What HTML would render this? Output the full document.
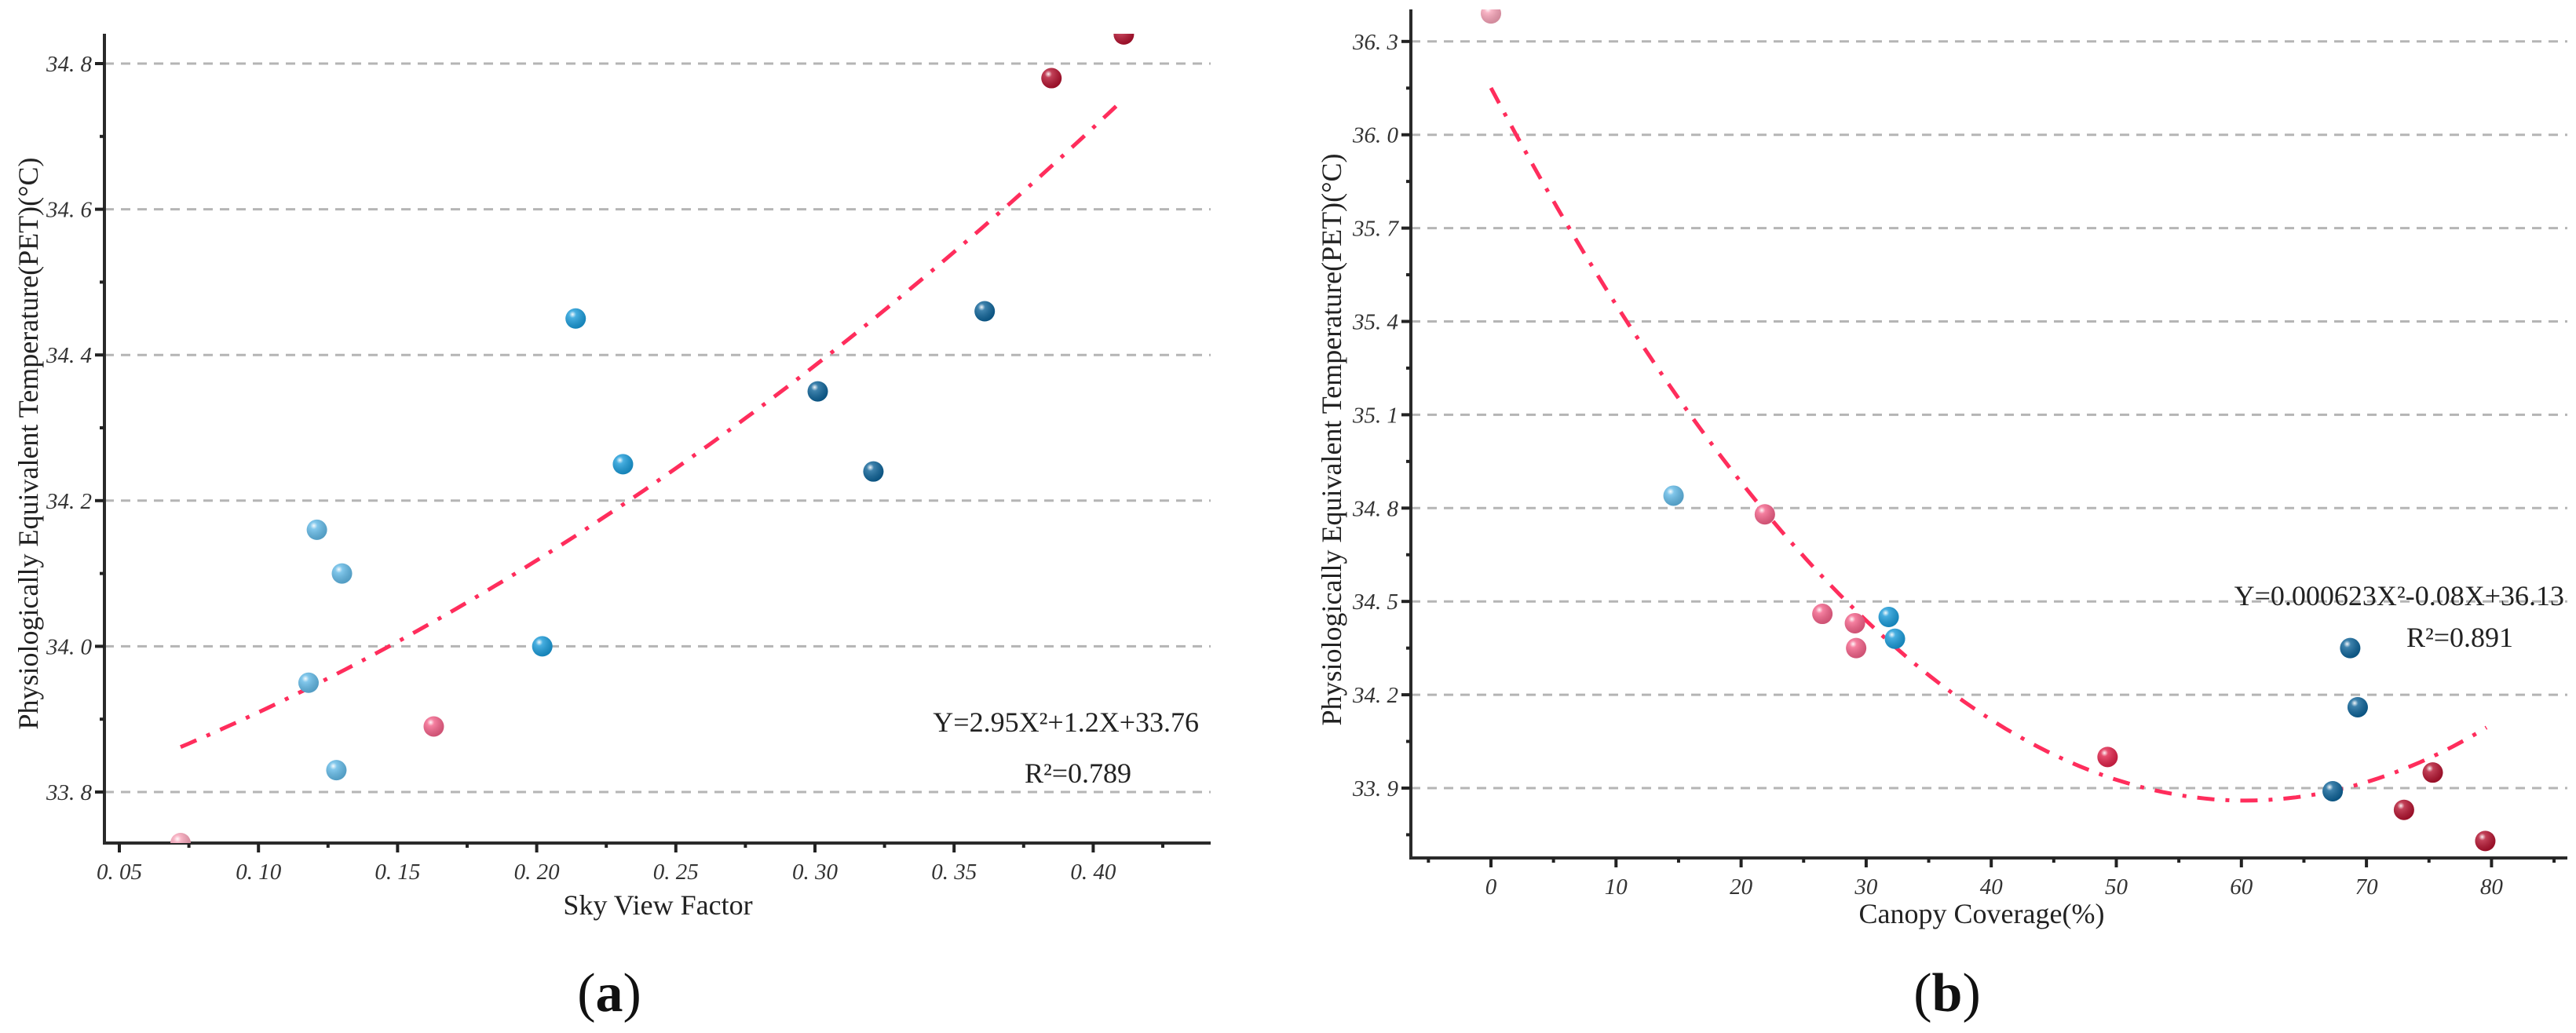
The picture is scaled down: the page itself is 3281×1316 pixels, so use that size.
<!DOCTYPE html>
<html><head><meta charset="utf-8">
<style>
html,body{margin:0;padding:0;background:#fff;}
svg{display:block;}
.tick{font-family:"Liberation Serif",serif;font-style:italic;font-size:29px;fill:#333;}
.title{font-family:"Liberation Serif",serif;font-size:36px;fill:#222;}
.eq{font-family:"Liberation Serif",serif;font-size:36px;fill:#222;}
.panel{font-family:"Liberation Serif",serif;font-size:70px;fill:#111;}
</style></head>
<body>
<svg id="chart" width="3281" height="1316" viewBox="0 0 3281 1316" xmlns="http://www.w3.org/2000/svg" style="position:absolute;left:0;top:0;">
<defs>
<radialGradient id="shine" cx="0.35" cy="0.3" r="0.7">
<stop offset="0" stop-color="#fff" stop-opacity="0.95"/>
<stop offset="0.25" stop-color="#fff" stop-opacity="0.2"/>
<stop offset="1" stop-color="#000" stop-opacity="0.15"/>
</radialGradient>
</defs>
<g id="pa"></g>
<g id="pb"></g>
</svg>
<script>
// Panel (a) data
const aX = [0.072,0.118,0.121,0.130,0.128,0.163,0.202,0.214,0.231,0.301,0.321,0.361,0.385,0.411];
const aY = [33.73,33.95,34.16,34.10,33.83,33.89,34.00,34.45,34.25,34.35,34.24,34.46,34.78,34.84];
const aColor = ["#f7a3b8","#62b9e6","#62b9e6","#62b9e6","#62b9e6","#f36189","#1a9bd9","#1a9bd9","#1a9bd9","#0e6398","#0e6398","#0e6398","#b3122f","#b3122f"];
const aXTicks = [0.05,0.10,0.15,0.20,0.25,0.30,0.35,0.40];
const aYTicks = [33.8,34.0,34.2,34.4,34.6,34.8];
const aCoef = [2.95,1.2,33.76];
// Panel (b) data
const bX = [0,14.6,21.9,26.5,29.1,29.2,31.8,32.3,49.3,67.3,68.7,69.3,73.0,75.3,79.5];
const bY = [36.39,34.84,34.78,34.46,34.43,34.35,34.45,34.38,34.00,33.89,34.35,34.16,33.83,33.95,33.73];
const bColor = ["#f7a3b8","#62b9e6","#f36189","#f36189","#f36189","#f36189","#1a9bd9","#1a9bd9","#e0224a","#0e6398","#0e6398","#0e6398","#b3122f","#b3122f","#b3122f"];
const bXTicks = [0,10,20,30,40,50,60,70,80];
const bYTicks = [33.9,34.2,34.5,34.8,35.1,35.4,35.7,36.0,36.3];
const bCurve = [0.00063,60.3,33.86]; // vertex form a(x-h)^2+k

const NS="http://www.w3.org/2000/svg";
function el(parent,tag,attrs,text){const e=document.createElementNS(NS,tag);for(const k in attrs)e.setAttribute(k,attrs[k]);if(text!==undefined)e.textContent=text;parent.appendChild(e);return e;}

function drawPanel(g,cfg){
  const sx=v=>cfg.x0px+(v-cfg.xv0)*cfg.xs;
  const sy=v=>cfg.y0px-(v-cfg.yv0)*cfg.ys;
  const grid=el(g,'g',{});
  
  
  cfg.yTicks.forEach(t=>{
    const l=el(grid,'line',{x1:cfg.axX,x2:cfg.right,y1:sy(t),y2:sy(t),stroke:'#b5b5b5','stroke-width':3,'stroke-dasharray':'12 9'});
    
    
  });
  const ya=el(g,'line',{x1:cfg.axX,x2:cfg.axX,y1:cfg.top,y2:cfg.axY+1.5,stroke:'#2a2a2a','stroke-width':4});
  
  
  const xa=el(g,'line',{x1:cfg.axX-2,x2:cfg.right,y1:cfg.axY,y2:cfg.axY,stroke:'#2a2a2a','stroke-width':4});
  
  
  const ystep=cfg.yTicks[1]-cfg.yTicks[0];
  cfg.yTicks.forEach(t=>{
    el(g,'line',{x1:cfg.axX-12,x2:cfg.axX,y1:sy(t),y2:sy(t),stroke:'#222','stroke-width':4});
    const m=sy(t+ystep/2);
    if(m>cfg.top) el(g,'line',{x1:cfg.axX-6,x2:cfg.axX,y1:m,y2:m,stroke:'#222','stroke-width':4});
    const m2=sy(t-ystep/2);
    if(t===cfg.yTicks[0]&&m2<cfg.axY) el(g,'line',{x1:cfg.axX-6,x2:cfg.axX,y1:m2,y2:m2,stroke:'#222','stroke-width':4});
    const lab=el(g,'text',{x:cfg.axX-16,y:sy(t)+10,'text-anchor':'end',class:'tick'},t.toFixed(1).replace('.', '. '));
    
    
  });
  const xstep=cfg.xTicks[1]-cfg.xTicks[0];
  let v=cfg.xTicks[0]-xstep;
  while(v<=cfg.xTicks[cfg.xTicks.length-1]+xstep){
    if(sx(v)>cfg.axX+4&&sx(v)<cfg.right){el(g,'line',{x1:sx(v),x2:sx(v),y1:cfg.axY,y2:cfg.axY+12,stroke:'#222','stroke-width':4});}
    const mv=v+xstep/2;
    if(sx(mv)>cfg.axX+4&&sx(mv)<cfg.right){el(g,'line',{x1:sx(mv),x2:sx(mv),y1:cfg.axY,y2:cfg.axY+6,stroke:'#222','stroke-width':4});}
    v+=xstep;
  }
  cfg.xTicks.forEach(t=>{
    const lab=el(g,'text',{x:sx(t),y:cfg.axY+46,'text-anchor':'middle',class:'tick'},cfg.xfmt(t));
    
    
  });
  let d='';
  for(let i=0;i<=120;i++){const x=cfg.cx0+(cfg.cx1-cfg.cx0)*i/120;d+=(i?'L':'M')+sx(x).toFixed(1)+' '+sy(cfg.f(x)).toFixed(1);}
  const c=el(g,'path',{d:d,fill:'none',stroke:'#ff2d5c','stroke-width':5,'stroke-dasharray':'22 14 5 14'});
  
  
  const clipId=cfg.id+'clip';
  const cp=el(g,'clipPath',{id:clipId});
  el(cp,'rect',{x:cfg.axX,y:cfg.top,width:cfg.right-cfg.axX,height:cfg.axY-cfg.top});
  const pts=el(g,'g',{'clip-path':'url(#'+clipId+')'});
  
  
  cfg.xs_.forEach((x,i)=>{
    const p=el(pts,'circle',{cx:sx(x),cy:sy(cfg.ys_[i]),r:13,fill:cfg.col[i]});
    
    
    el(pts,'circle',{cx:sx(x),cy:sy(cfg.ys_[i]),r:13,fill:'url(#shine)'});
  });
}

drawPanel(document.getElementById('pa'),{
  id:'a',axX:133,axY:1074,top:43,right:1542,
  x0px:152,xv0:0.05,xs:177.2/0.05,y0px:1009,yv0:33.8,ys:185.6/0.2,
  xTicks:aXTicks,yTicks:aYTicks,xfmt:t=>t.toFixed(2).replace('.', '. '),
  cx0:aX[0],cx1:aX[aX.length-1],f:x=>aCoef[0]*x*x+aCoef[1]*x+aCoef[2],
  xs_:aX,ys_:aY,col:aColor
});
drawPanel(document.getElementById('pb'),{
  id:'b',axX:1797,axY:1093,top:12,right:3270,
  x0px:1899,xv0:0,xs:15.93,y0px:1004,yv0:33.9,ys:118.9/0.3,
  xTicks:bXTicks,yTicks:bYTicks,xfmt:t=>String(t),
  cx0:0,cx1:79.6,f:x=>bCurve[0]*(x-bCurve[1])*(x-bCurve[1])+bCurve[2],
  xs_:bX,ys_:bY,col:bColor
});
</script>
<div style="position:absolute;left:0;top:0;width:3281px;height:1316px;pointer-events:none;">
<svg width="3281" height="1316" xmlns="http://www.w3.org/2000/svg">
<text class="title" x="48" y="565" text-anchor="middle" transform="rotate(-90 48 565)">Physiologically Equivalent Temperature(PET)(°C)</text>
<text class="title" x="838" y="1165" text-anchor="middle">Sky View Factor</text>
<text class="eq" x="1527" y="932" text-anchor="end">Y=2.95X²+1.2X+33.76</text>
<text class="eq" x="1373" y="997" text-anchor="middle">R²=0.789</text>
<text class="panel" x="776" y="1288" text-anchor="middle">(<tspan font-weight="bold">a</tspan>)</text>
<text class="title" x="1708" y="560" text-anchor="middle" transform="rotate(-90 1708 560)">Physiologically Equivalent Temperature(PET)(°C)</text>
<text class="title" x="2524" y="1176" text-anchor="middle">Canopy Coverage(%)</text>
<text class="eq" x="3266" y="771" text-anchor="end">Y=0.000623X²-0.08X+36.13</text>
<text class="eq" x="3133" y="824" text-anchor="middle">R²=0.891</text>
<text class="panel" x="2480" y="1288" text-anchor="middle">(<tspan font-weight="bold">b</tspan>)</text>
</svg>
</div>
</body></html>
